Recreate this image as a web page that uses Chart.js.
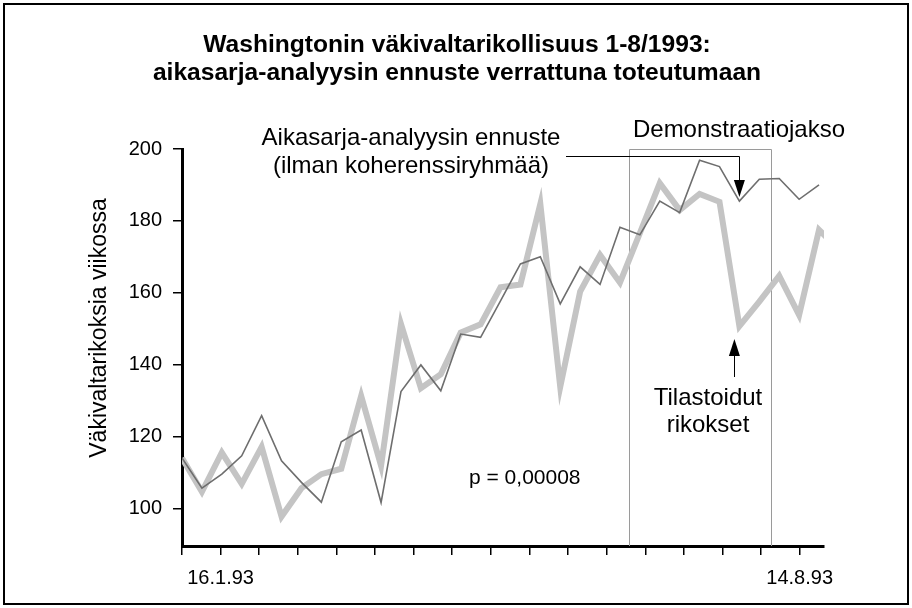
<!DOCTYPE html>
<html>
<head>
<meta charset="utf-8">
<script src="https://cdn.jsdelivr.net/npm/chart.js@4.4.0/dist/chart.umd.min.js"></script>
<style>
  html, body { margin: 0; padding: 0; background: #fff; }
  #wrap { width: 912px; height: 608px; }
</style>
</head>
<body>
<div id="wrap"><canvas id="chart" width="912" height="608"></canvas></div>
<script>
// weekly values, first point = week of 2.1.93
const observed = [114, 104.6, 115.5, 106.8, 117.1, 97.7, 105.6, 109.5, 111, 131.3, 111.8, 151.3,
  133.4, 137.3, 148.9, 151.2, 161.5, 162.3, 184.7, 133.8, 160.3, 170.5, 162.8, 176.6, 190.5,
  183, 187.5, 185.3, 150.7, 157.5, 164.7, 153.8, 177.5, 172];
const forecast = [114, 105.6, 109.5, 114.6, 125.8, 113.2, 107.2, 101.7, 118.5, 121.8, 101.6, 132.5,
  139.9, 132.7, 148.5, 147.6, 157.7, 168, 170, 156.9, 167.2, 162.3, 178.2, 176.1, 185.5,
  182.3, 196.9, 195.1, 185.5, 191.6, 191.8, 186, 190];

const yTicks = [100, 120, 140, 160, 180, 200];
const dateTicks = [0, 2, 4, 6, 8, 10, 12, 14, 16, 18, 20, 22, 24, 26, 28, 30, 32];
const dateLabelWeeks = [2, 32];
const dateLabels = ['16.1.93', '14.8.93'];
const demoPeriod = [22.45, 29.6];
const markWeek = 28;

const FONT = '"Liberation Sans", Arial, sans-serif';

const toPoints = arr => arr.map((v, i) => ({ x: i, y: v }));

const annotations = {
  id: 'annotations',
  beforeDatasetsDraw(chart) {
    const { ctx, chartArea, scales } = chart;
    const x1 = scales.x.getPixelForValue(demoPeriod[0]);
    const x2 = scales.x.getPixelForValue(demoPeriod[1]);
    const top = scales.y.getPixelForValue(200);
    ctx.save();
    ctx.strokeStyle = '#9a9a9a';
    ctx.lineWidth = 1;
    ctx.beginPath();
    ctx.moveTo(Math.round(x1) + 0.5, chartArea.bottom);
    ctx.lineTo(Math.round(x1) + 0.5, Math.round(top) + 0.5);
    ctx.lineTo(Math.round(x2) + 0.5, Math.round(top) + 0.5);
    ctx.lineTo(Math.round(x2) + 0.5, chartArea.bottom);
    ctx.stroke();
    ctx.restore();
  },
  afterDraw(chart) {
    const { ctx, scales } = chart;
    ctx.save();
    ctx.fillStyle = '#000';
    ctx.strokeStyle = '#000';

    // frame
    ctx.lineWidth = 2;
    ctx.strokeRect(4, 4, 904, 600);

    // title
    ctx.textAlign = 'center';
    ctx.textBaseline = 'alphabetic';
    ctx.font = 'bold 24.6px ' + FONT;
    ctx.fillText('Washingtonin väkivaltarikollisuus 1-8/1993:', 457, 52);
    ctx.fillText('aikasarja-analyysin ennuste verrattuna toteutumaan', 457, 80);

    // y axis title
    ctx.font = '23px ' + FONT;
    ctx.save();
    ctx.translate(106, 328);
    ctx.rotate(-Math.PI / 2);
    ctx.fillText('Väkivaltarikoksia viikossa', 0, 0);
    ctx.restore();

    ctx.font = '24px ' + FONT;
    ctx.fillText('Aikasarja-analyysin ennuste', 411, 145);
    ctx.fillText('(ilman koherenssiryhmää)', 411, 173);
    ctx.fillText('Demonstraatiojakso', 739, 137);
    ctx.fillText('Tilastoidut', 708, 405);
    ctx.fillText('rikokset', 708, 432);

    ctx.font = '21px ' + FONT;
    ctx.textAlign = 'left';
    ctx.fillText('p = 0,00008', 469, 484);

    // arrows
    const ax = scales.x.getPixelForValue(markWeek);
    const tip1 = scales.y.getPixelForValue(forecast[markWeek]) - 4;
    const tip2 = scales.y.getPixelForValue(observed[markWeek]) + 13;
    const ax2 = ax - 5;
    ctx.lineWidth = 1;
    ctx.beginPath();
    ctx.moveTo(566, 156.5);
    ctx.lineTo(Math.round(ax) + 0.5, 156.5);
    ctx.lineTo(Math.round(ax) + 0.5, tip1 - 14);
    ctx.stroke();
    ctx.beginPath();
    ctx.moveTo(ax, tip1);
    ctx.lineTo(ax - 5.5, tip1 - 17);
    ctx.lineTo(ax + 5.5, tip1 - 17);
    ctx.closePath();
    ctx.fill();

    ctx.beginPath();
    ctx.moveTo(Math.round(ax2) + 0.5, 377);
    ctx.lineTo(Math.round(ax2) + 0.5, tip2 + 14);
    ctx.stroke();
    ctx.beginPath();
    ctx.moveTo(ax2, tip2);
    ctx.lineTo(ax2 - 5.5, tip2 + 17);
    ctx.lineTo(ax2 + 5.5, tip2 + 17);
    ctx.closePath();
    ctx.fill();
    ctx.restore();
  }
};

new Chart(document.getElementById('chart'), {
  type: 'line',
  data: {
    datasets: [
      {
        label: 'Aikasarja-analyysin ennuste',
        data: toPoints(forecast),
        borderColor: '#6e6e6e',
        borderWidth: 1.6,
        borderJoinStyle: 'miter',
        pointRadius: 0,
        tension: 0,
        clip: 0,
        order: 0,
      },
      {
        label: 'Tilastoidut rikokset',
        data: toPoints(observed),
        borderColor: '#c4c4c4',
        borderWidth: 6,
        borderJoinStyle: 'miter',
        pointRadius: 0,
        tension: 0,
        clip: 0,
        order: 1,
      },
    ],
  },
  options: {
    responsive: false,
    animation: false,
    devicePixelRatio: 1,
    layout: { padding: { top: 149, right: 88, bottom: 0, left: 0 } },
    plugins: {
      legend: { display: false },
      tooltip: { enabled: false },
    },
    scales: {
      x: { type: 'linear', min: 0, max: 32.25, display: false },
      xDate: {
        type: 'linear',
        position: 'bottom',
        min: 0,
        max: 33.26,
        afterBuildTicks(s) { s.ticks = dateTicks.map(v => ({ value: v })); },
        afterFit(s) { s.height = 62; },
        border: { display: true, color: '#000', width: 3 },
        grid: { drawOnChartArea: false, tickLength: 9, color: '#000', lineWidth: 1.5 },
        ticks: {
          autoSkip: false,
          maxRotation: 0,
          padding: 11,
          color: '#000',
          font: { size: 20, family: FONT },
          callback: v => {
            const k = dateLabelWeeks.indexOf(v);
            return k >= 0 ? dateLabels[k] : '';
          },
        },
      },
      y: {
        min: 89.5,
        max: 200,
        afterBuildTicks(s) { s.ticks = yTicks.map(v => ({ value: v })); },
        afterFit(s) { s.width = 182; },
        border: { display: true, color: '#000', width: 3 },
        grid: { drawOnChartArea: false, tickLength: 9, color: '#000', lineWidth: 1.5 },
        ticks: { padding: 11, color: '#000', font: { size: 20, family: FONT } },
      },
    },
  },
  plugins: [annotations],
});
</script>
</body>
</html>
